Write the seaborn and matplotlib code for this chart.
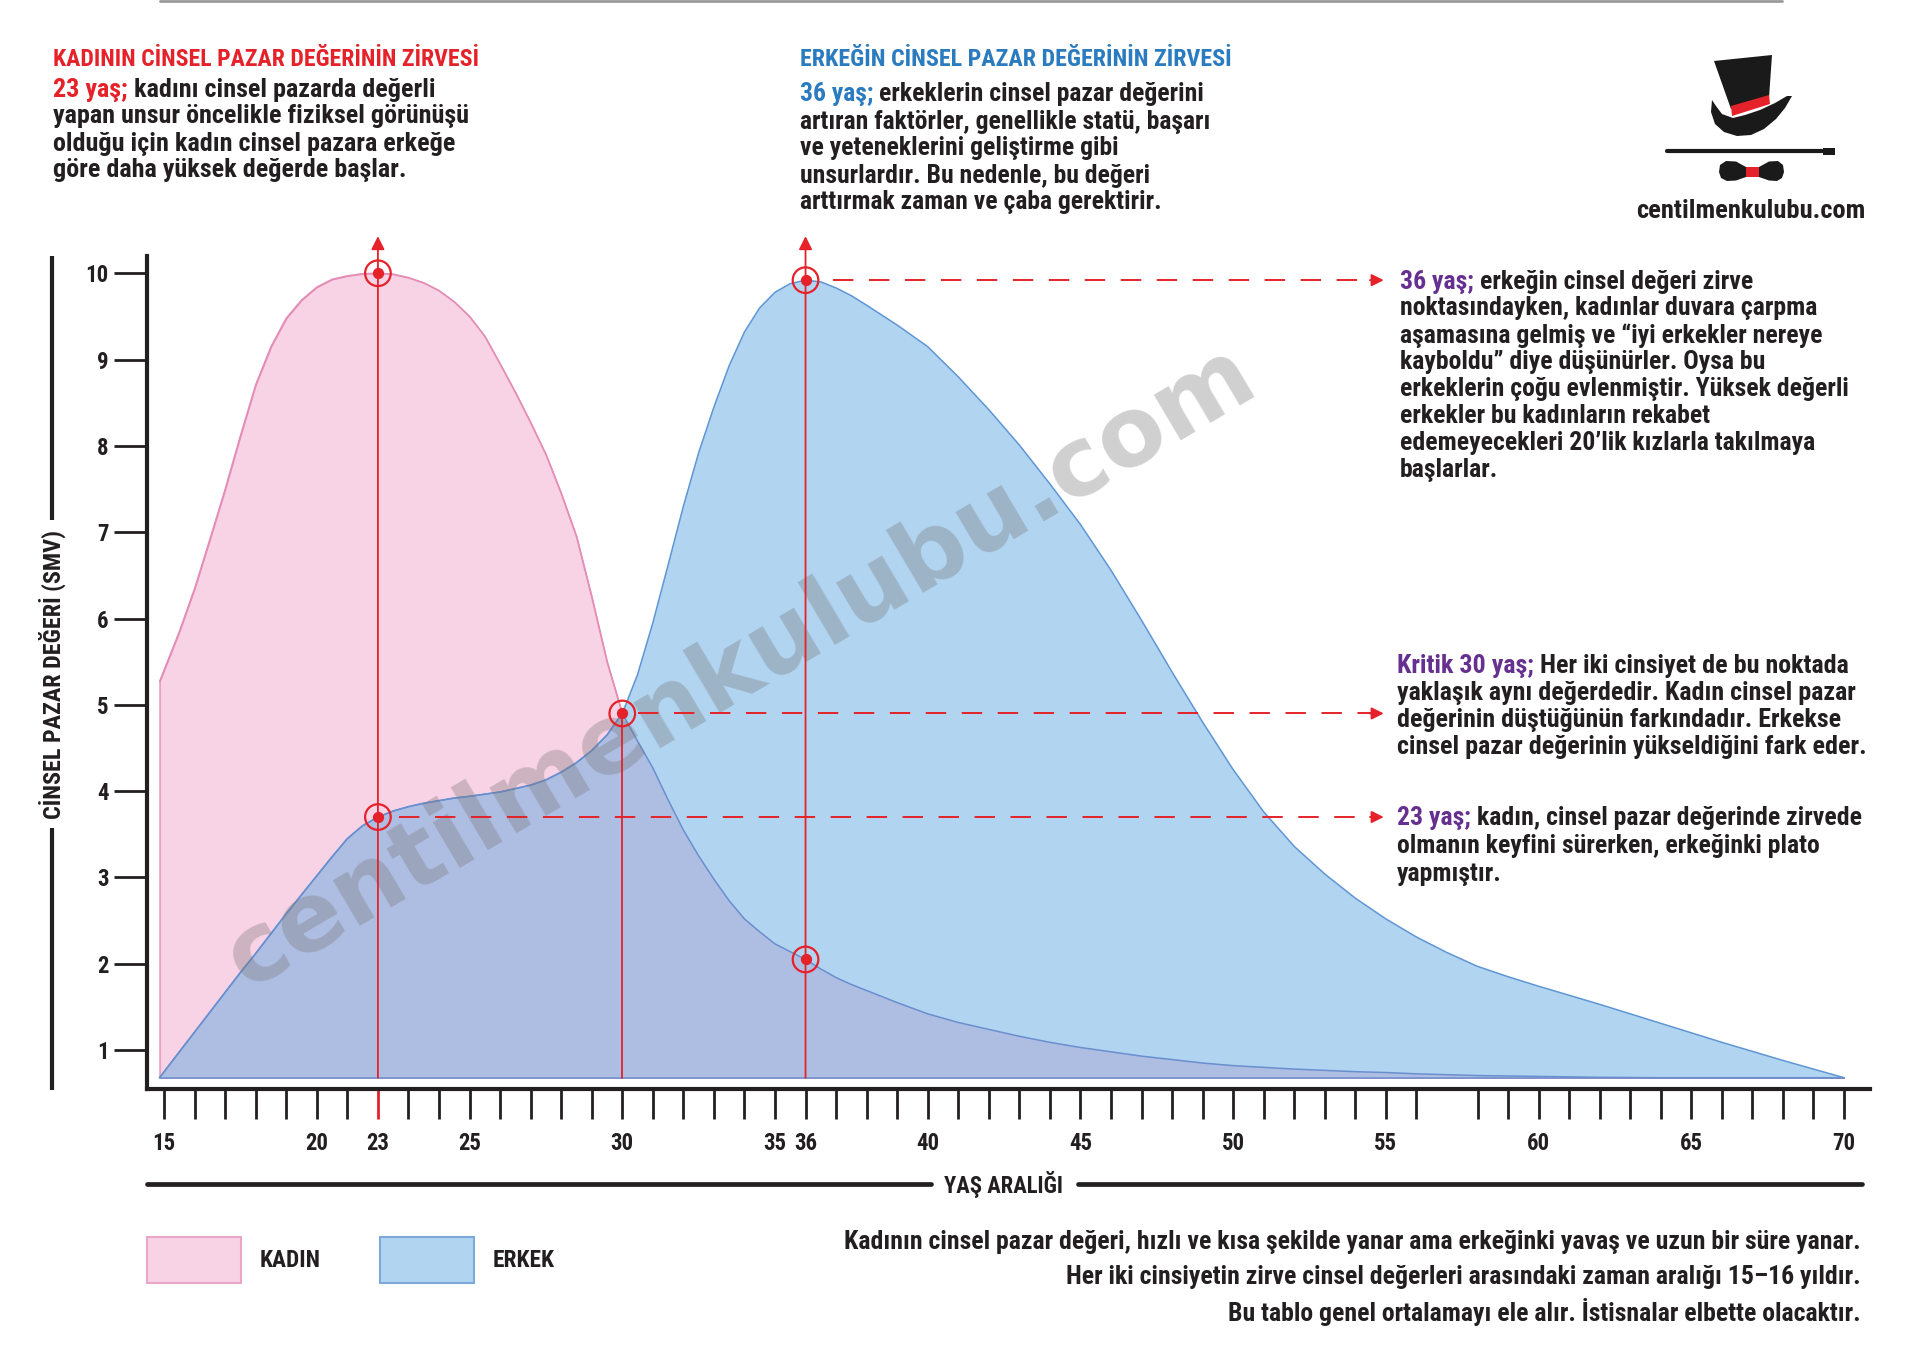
import numpy as np
import pandas as pd
import matplotlib
matplotlib.use("Agg")
import matplotlib.pyplot as plt
import seaborn as sns
from matplotlib import font_manager as fm
from matplotlib.font_manager import FontProperties
from matplotlib.patches import Patch, Polygon, Rectangle

# ---------------- data ----------------
ages = [14.85, 15.5, 16, 16.5, 17, 17.5, 18, 18.5, 19, 19.5, 20, 20.5, 21, 21.5, 22, 22.5, 23,
        23.5, 24, 24.5, 25, 25.5, 26, 26.5, 27, 27.5, 28, 28.5, 29, 29.5, 30, 30.5, 31, 31.5,
        32, 32.5, 33, 33.5, 34, 34.5, 35, 35.5, 36, 36.5, 37, 37.5,
        38, 39, 40, 41, 42, 43, 44, 45, 46, 47, 48, 49, 50, 51, 52, 53, 54, 55, 56, 57, 58,
        59, 60, 62, 64, 66, 68, 70]
female_smv = [5.27, 5.85, 6.35, 6.92, 7.50, 8.12, 8.71, 9.15, 9.48, 9.69, 9.84, 9.93, 9.97, 9.995,
              10.0, 9.99, 9.95, 9.89, 9.80, 9.67, 9.50, 9.27, 8.95, 8.62, 8.27, 7.90, 7.45, 6.95,
              6.25, 5.50, 4.90, 4.58, 4.27, 3.90, 3.55, 3.25, 2.98, 2.73, 2.52, 2.37, 2.23, 2.14,
              2.05, 1.94, 1.84, 1.76,
              1.69, 1.55, 1.42, 1.32, 1.24, 1.16, 1.09, 1.03, 0.98, 0.93, 0.89, 0.85, 0.82, 0.80,
              0.78, 0.765, 0.75, 0.74, 0.725, 0.715, 0.705, 0.70, 0.695, 0.685, 0.68, 0.68, 0.68,
              0.68]
male_smv = [0.68, 0.98, 1.21, 1.44, 1.67, 1.90, 2.12, 2.35, 2.58, 2.80, 3.02, 3.24, 3.45, 3.60,
            3.70, 3.77, 3.82, 3.86, 3.89, 3.92, 3.94, 3.965, 3.99, 4.03, 4.07, 4.13, 4.22, 4.33,
            4.47, 4.65, 4.90, 5.35, 5.95, 6.62, 7.30, 7.92, 8.45, 8.93, 9.32, 9.60, 9.78, 9.88,
            9.92, 9.90, 9.83, 9.74,
            9.63, 9.40, 9.15, 8.80, 8.42, 8.01, 7.56, 7.09, 6.56, 5.98, 5.38, 4.80, 4.25, 3.76,
            3.36, 3.04, 2.76, 2.52, 2.31, 2.13, 1.97, 1.85, 1.74, 1.53, 1.31, 1.09, 0.88, 0.68]
baseline_smv = 0.68

y_ticks = [1, 2, 3, 4, 5, 6, 7, 8, 9, 10]
x_minor_ages = [a for a in range(15, 71) if a != 57]
x_label_pos = [15, 20, 22, 25, 30, 35, 36, 40, 45, 50, 55, 60, 65, 70]
x_label_txt = ['15', '20', '23', '25', '30', '35', '36', '40', '45', '50', '55', '60', '65', '70']

# highlighted points (age, series)
marker_ages = [22, 22, 30, 36, 36]
marker_series = ['female', 'male', 'male', 'male', 'female']
arrow_up_ages = [22, 36]
plain_vline_ages = [30]
# dashed call-outs: (age of point, series, dash start age)
callouts = [(36, 'male', 36.9), (30, 'male', 30.5), (22, 'male', 22.7)]
callout_end_age = 54.93

series_names = ['KADIN', 'ERKEK']

# ---------------- texts ----------------
hdr_left = "KADININ CİNSEL PAZAR DEĞERİNİN ZİRVESİ"
left_prefix = "23 yaş;"
left_lines = ["kadını cinsel pazarda değerli",
              "yapan unsur öncelikle fiziksel görünüşü",
              "olduğu için kadın cinsel pazara erkeğe",
              "göre daha yüksek değerde başlar."]
hdr_mid = "ERKEĞİN CİNSEL PAZAR DEĞERİNİN ZİRVESİ"
mid_prefix = "36 yaş;"
mid_lines = ["erkeklerin cinsel pazar değerini",
             "artıran faktörler, genellikle statü, başarı",
             "ve yeteneklerini geliştirme gibi",
             "unsurlardır. Bu nedenle, bu değeri",
             "arttırmak zaman ve çaba gerektirir."]
r1_prefix = "36 yaş;"
r1_lines = ["erkeğin cinsel değeri zirve",
            "noktasındayken, kadınlar duvara çarpma",
            "aşamasına gelmiş ve “iyi erkekler nereye",
            "kayboldu” diye düşünürler. Oysa bu",
            "erkeklerin çoğu evlenmiştir. Yüksek değerli",
            "erkekler bu kadınların rekabet",
            "edemeyecekleri 20’lik kızlarla takılmaya",
            "başlarlar."]
r2_prefix = "Kritik 30 yaş;"
r2_lines = ["Her iki cinsiyet de bu noktada",
            "yaklaşık aynı değerdedir. Kadın cinsel pazar",
            "değerinin düştüğünün farkındadır. Erkekse",
            "cinsel pazar değerinin yükseldiğini fark eder."]
r3_prefix = "23 yaş;"
r3_lines = ["kadın, cinsel pazar değerinde zirvede",
            "olmanın keyfini sürerken, erkeğinki plato",
            "yapmıştır."]
bottom_lines = ["Kadının cinsel pazar değeri, hızlı ve kısa şekilde yanar ama erkeğinki yavaş ve uzun bir süre yanar.",
                "Her iki cinsiyetin zirve cinsel değerleri arasındaki zaman aralığı 15–16 yıldır.",
                "Bu tablo genel ortalamayı ele alır. İstisnalar elbette olacaktır."]
y_title = "CİNSEL PAZAR DEĞERİ (SMV)"
x_title = "YAŞ ARALIĞI"
site = "centilmenkulubu.com"

# ---------------- colours ----------------
RED = '#e52129'
BLUE_HDR = '#2a7bbf'
PURPLE = '#65308f'
DARK = '#231f20'
PINK_FILL = '#f8d2e5'
PINK_LINE = '#e48db6'
BLUE_FILL = '#b1d4f1'
BLUE_LINE = '#5f96d4'
OVER_FILL = '#aebee2'
OVER_LINE = '#6a8fcf'

# ---------------- fonts ----------------
sns.set_theme(style='white')
plt.rcParams['font.family'] = ['DejaVu Sans']


def _wnum(w):
    if isinstance(w, (int, float)):
        return int(w)
    return {'ultralight': 100, 'light': 300, 'normal': 400, 'regular': 400, 'book': 400,
            'medium': 500, 'roman': 400, 'semibold': 600, 'demibold': 600, 'demi': 600,
            'bold': 700, 'heavy': 800, 'extra bold': 800, 'black': 900}.get(str(w).lower(), 400)


def pick_condensed_bold():
    prefs = ['Roboto Condensed', 'Liberation Sans Narrow', 'Noto Sans', 'Noto Sans Condensed',
             'Open Sans', 'Open Sans Condensed', 'DejaVu Sans', 'DejaVu Sans Condensed']
    best, best_score = None, None
    for fe in fm.fontManager.ttflist:
        name = fe.name
        st = str(fe.stretch).lower()
        cond = (st in ('condensed', 'extra-condensed')) or ('Condensed' in name) or ('Narrow' in name)
        if not cond or fe.style != 'normal':
            continue
        if 'Mono' in name or 'Serif' in name:
            continue
        rank = prefs.index(name) if name in prefs else len(prefs)
        score = (rank, abs(_wnum(fe.weight) - 700))
        if best_score is None or score < best_score:
            best, best_score = fe.fname, score
    return best


COND = pick_condensed_bold()


def fp(size):
    if COND:
        return FontProperties(fname=COND, size=size)
    return FontProperties(family=['Roboto', 'DejaVu Sans'], weight='bold', size=size)


def fp_wide(size):
    return FontProperties(family=['DejaVu Sans'], weight='bold', size=size)


W, H = 1920, 1371
fig = plt.figure(figsize=(19.2, 13.71), dpi=100)
fig.patch.set_facecolor('white')
renderer = fig.canvas.get_renderer()


def fx(px):
    return px / W


def fy(py):
    return 1 - py / H


def text_w(s, prop):
    t = fig.text(0, 0, s, fontproperties=prop)
    w = t.get_window_extent(renderer).width
    t.remove()
    return w


def fit(s, target_px, maker=fp):
    return 20 * target_px / text_w(s, maker(20))


def space_w(size):
    return text_w('a a', fp(size)) - text_w('aa', fp(size))


# ---------------- main axes ----------------
XL = (14.43, 70.85)
YL = (0.555, 10.2)
ax = fig.add_axes([fx(146.7), fy(1088.5), fx(1870) - fx(146.7), fy(256) - fy(1088.5)])
ax.set_facecolor('none')
ax.set_xlim(*XL)
ax.set_ylim(*YL)

df = pd.DataFrame({'age': ages, 'female': female_smv, 'male': male_smv})
df['overlap'] = np.minimum(df['female'], df['male'])

ax.fill_between(df['age'], baseline_smv, df['female'], facecolor=PINK_FILL, edgecolor=PINK_LINE,
                linewidth=1.0, zorder=1)
sns.lineplot(data=df, x='age', y='female', color=PINK_LINE, lw=1.1, ax=ax, zorder=1.5)
ax.fill_between(df['age'], baseline_smv, df['male'], facecolor=BLUE_FILL, edgecolor='none', zorder=2)
ax.fill_between(df['age'], baseline_smv, df['overlap'], facecolor=OVER_FILL, edgecolor='none', zorder=3)
sns.lineplot(data=df, x='age', y='male', color=BLUE_LINE, lw=1.1, ax=ax, zorder=4)
sns.lineplot(data=df, x='age', y='overlap', color=OVER_LINE, lw=1.1, ax=ax, zorder=4)
ax.plot([df['age'].iloc[0], df['age'].iloc[-1]], [baseline_smv, baseline_smv], color=OVER_LINE,
        lw=1.1, zorder=4)
ax.set_xlabel('')
ax.set_ylabel('')

# spines & ticks
sns.despine(ax=ax)
for side in ('left', 'bottom'):
    ax.spines[side].set_linewidth(3.0)
    ax.spines[side].set_color(DARK)
ax.spines['bottom'].set_capstyle('projecting')
ax.set_yticks(y_ticks)
ax.set_yticklabels([str(v) for v in y_ticks])
ax.set_xticks(x_minor_ages)
ax.set_xticklabels([x_label_txt[x_label_pos.index(a)] if a in x_label_pos else '' for a in x_minor_ages])
ax.tick_params(axis='y', direction='out', length=23.8, width=2.0, color=DARK, pad=3.5, left=True)
ax.tick_params(axis='x', direction='out', length=21.6, width=2.0, color=DARK, pad=9.5, bottom=True)
tick_size = fit('10', 23)
for lab in ax.get_xticklabels() + ax.get_yticklabels():
    lab.set_fontproperties(fp(tick_size))
    lab.set_color(DARK)
for a, tk in zip(x_minor_ages, ax.xaxis.get_major_ticks()):
    if a == arrow_up_ages[0]:
        tk.tick1line.set_markeredgecolor(RED)
        tk.tick1line.set_zorder(6)

# ---------------- red guides ----------------
val = {'female': dict(zip(ages, female_smv)), 'male': dict(zip(ages, male_smv))}
arrow_style = '-|>,head_length=0.4,head_width=0.2'
for a in arrow_up_ages:
    ax.annotate('', xy=(a, 10.43), xytext=(a, baseline_smv), zorder=6, annotation_clip=False,
                arrowprops=dict(arrowstyle=arrow_style, color=RED, lw=1.3, mutation_scale=20,
                                shrinkA=0, shrinkB=0))
for a in plain_vline_ages:
    ax.plot([a, a], [baseline_smv, val['male'][a]], color=RED, lw=1.3, zorder=6)
for a, s, x0 in callouts:
    yv = val[s][a]
    ax.plot([x0, callout_end_age - 0.3], [yv, yv], color=RED, lw=1.4, dashes=(10.5, 8), zorder=6)
    ax.annotate('', xy=(callout_end_age, yv), xytext=(callout_end_age - 0.45, yv), zorder=6,
                annotation_clip=False,
                arrowprops=dict(arrowstyle=arrow_style, color=RED, lw=1.4, mutation_scale=18,
                                shrinkA=0, shrinkB=0))
mx = marker_ages
my = [val[s][a] for a, s in zip(marker_ages, marker_series)]
ax.scatter(mx, my, s=340, facecolors='none', edgecolors=RED, linewidths=1.6, zorder=7)
ax.scatter(mx, my, s=66, color=RED, linewidths=0, zorder=8)

# watermark
wm_size = fit(site, 1180, fp_wide)
ax.text(fx(741), fy(667), site, transform=fig.transFigure, fontproperties=fp_wide(wm_size),
        color='#767676', alpha=0.34, rotation=30.6, rotation_mode='anchor', ha='center',
        va='center', zorder=5)

# ---------------- axis titles ----------------
deco = fig.add_axes([0, 0, 1, 1], zorder=-1)
deco.set_xlim(0, W)
deco.set_ylim(H, 0)
deco.axis('off')

yt_size = fit(y_title, 289)
fig.text(fx(52), fy(674), y_title, rotation=90, ha='center', va='center',
         fontproperties=fp(yt_size), color=DARK)
deco.plot([52, 52], [256, 520], color=DARK, lw=3.0, solid_capstyle='butt')
deco.plot([52, 52], [828, 1090], color=DARK, lw=3.0, solid_capstyle='butt')

xt_size = fit(x_title, 119)
fig.text(fx(1004), fy(1184), x_title, ha='center', va='center', fontproperties=fp(xt_size), color=DARK)
deco.plot([147, 931], [1184, 1184], color=DARK, lw=3.4, solid_capstyle='round')
deco.plot([1078, 1862], [1184, 1184], color=DARK, lw=3.4, solid_capstyle='round')

# top grey rule
deco.plot([160, 1782], [1, 1], color='#9a9a9a', lw=2.0)

# ---------------- legend ----------------
leg_size = fit('KADIN', 61)
fs_px = leg_size * 100 / 72
box_h = 46
hh = (box_h / fs_px - 0.245) / 0.65
handles = [Patch(facecolor=PINK_FILL, edgecolor='#eaa6c6', linewidth=1.5),
           Patch(facecolor=BLUE_FILL, edgecolor='#7ba9da', linewidth=1.5)]
leg = ax.legend(handles, series_names, ncol=2, loc='upper left',
                bbox_to_anchor=(fx(147), fy(1237)), bbox_transform=fig.transFigure,
                frameon=False, borderpad=0, borderaxespad=0,
                handlelength=94 / fs_px, handleheight=hh,
                handletextpad=19 / fs_px, columnspacing=59 / fs_px, prop=fp(leg_size))
for t in leg.get_texts():
    t.set_color(DARK)


# ---------------- paragraphs ----------------
def para(x_px, y0_px, dy_px, prefix, pcolor, lines, size):
    f = fp(size)
    t = fig.text(fx(x_px), fy(y0_px), prefix, fontproperties=f, color=pcolor,
                 ha='left', va='center_baseline')
    w = t.get_window_extent(renderer).width
    fig.text(fx(x_px + w + space_w(size)), fy(y0_px), lines[0], fontproperties=f, color=DARK,
             ha='left', va='center_baseline')
    for k, ln in enumerate(lines[1:], start=1):
        fig.text(fx(x_px), fy(y0_px + k * dy_px), ln, fontproperties=f, color=DARK,
                 ha='left', va='center_baseline')


h1 = fit(hdr_left, 425)
fig.text(fx(53), fy(57), hdr_left, fontproperties=fp(h1), color=RED, ha='left', va='center_baseline')
para(53, 87, 27, left_prefix, RED, left_lines, fit(left_lines[1], 415))

h2 = fit(hdr_mid, 431)
fig.text(fx(800), fy(57), hdr_mid, fontproperties=fp(h2), color=BLUE_HDR, ha='left', va='center_baseline')
para(800, 92, 27, mid_prefix, BLUE_HDR, mid_lines, fit(mid_lines[1], 410))

para(1400, 279, 26.9, r1_prefix, PURPLE, r1_lines, fit(r1_lines[4], 447))
para(1397, 664, 26.9, r2_prefix, PURPLE, r2_lines, fit(r2_lines[3], 468))
para(1397, 816, 27.5, r3_prefix, PURPLE, r3_lines, fit(r3_prefix + ' ' + r3_lines[0], 464))

b_size = fit(bottom_lines[0], 1016)
for k, ln in enumerate(bottom_lines):
    fig.text(fx(1861), fy(1240 + 34.5 * k), ln, fontproperties=fp(b_size), color=DARK,
             ha='right', va='center_baseline')

# ---------------- logo ----------------
INK = '#1a1a1a'
deco.add_patch(Polygon([(1714, 61), (1772, 55), (1769, 98), (1731, 109)], closed=True,
                       facecolor=INK, edgecolor='none'))
deco.add_patch(Polygon([(1731, 106), (1769, 95), (1770, 104), (1732, 116)], closed=True,
                       facecolor=RED, edgecolor='none'))
deco.add_patch(Polygon([(1712, 100), (1711, 112), (1715, 124), (1724, 132), (1737, 136),
                        (1751, 135), (1764, 129), (1776, 119), (1785, 108), (1792, 96),
                        (1787, 96), (1775, 103), (1760, 110), (1745, 115), (1733, 118),
                        (1722, 114), (1716, 106)],
                       closed=True, facecolor=INK, edgecolor='none'))
deco.plot([1667, 1822], [151, 151], color=INK, lw=3.0, solid_capstyle='round')
deco.add_patch(Rectangle((1823, 147.5), 12, 7, facecolor=INK, edgecolor='none'))
deco.add_patch(Polygon([(1746, 167), (1736, 161.5), (1726, 161), (1720, 165), (1719, 172),
                        (1721, 178), (1727, 181), (1736, 180.5), (1746, 177)], closed=True,
                       facecolor=INK, edgecolor='none'))
deco.add_patch(Polygon([(1759, 167), (1769, 161.5), (1778, 161), (1783, 165), (1784, 172),
                        (1782, 178), (1777, 181), (1769, 180.5), (1759, 177)], closed=True,
                       facecolor=INK, edgecolor='none'))
deco.add_patch(Rectangle((1746, 167), 13, 10, facecolor=RED, edgecolor='none'))
fig.text(fx(1751), fy(211), site, fontproperties=fp(fit(site, 229)), color=DARK,
         ha='center', va='center')

fig.savefig('out.png', dpi=100, facecolor='white')
